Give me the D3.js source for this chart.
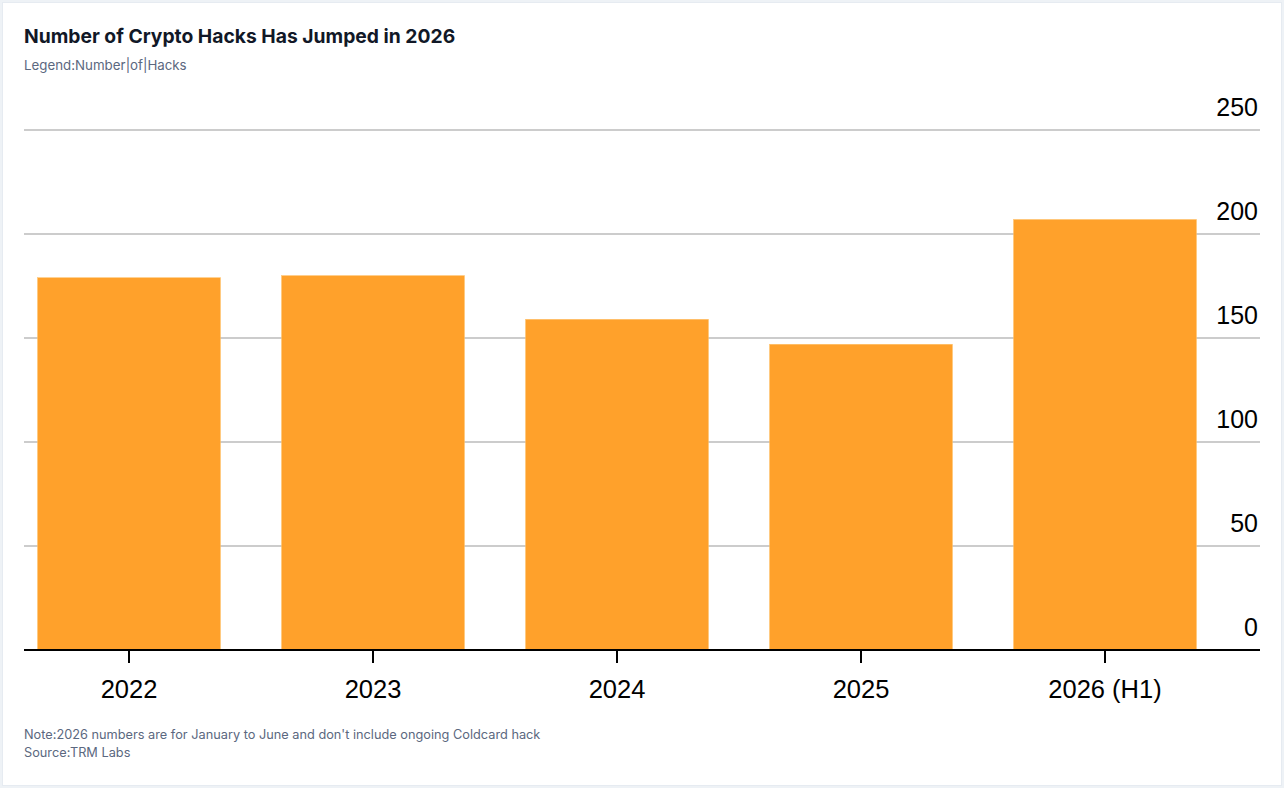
<!DOCTYPE html>
<html>
<head>
<meta charset="utf-8">
<script src="https://cdn.jsdelivr.net/npm/d3@7"></script>
<style>
  html, body { margin: 0; padding: 0; background: #eef2f6; }
  svg { display: block; }
</style>
</head>
<body>
<script>
// data
var years = ["2022", "2023", "2024", "2025", "2026 (H1)"];
var hacks = [179, 180, 159, 147, 207];
var yTicks = [0, 50, 100, 150, 200, 250];

document.addEventListener("DOMContentLoaded", function () {
    var width = 1284, height = 788;

    var svg = d3.select("body").append("svg")
      .attr("width", width)
      .attr("height", height)
      .attr("viewBox", "0 0 " + width + " " + height);

    // white card
    svg.append("rect")
      .attr("x", 2.5)
      .attr("y", 2.5)
      .attr("width", 1279)
      .attr("height", 783)
      .attr("fill", "white")
      .attr("stroke", "#e6ebf1");

    svg.append("text")
      .attr("x", 24)
      .attr("y", 43)
      .attr("font-family", "Inter, sans-serif")
      .attr("font-weight", 700)
      .attr("font-size", 19.3)
      .attr("fill", "#111827")
      .text("Number of Crypto Hacks Has Jumped in 2026");

    svg.append("text")
      .attr("x", 24)
      .attr("y", 70)
      .attr("font-family", "Inter, sans-serif")
      .attr("font-size", 13.3)
      .attr("fill", "#5b6880")
      .text("Legend:Number|of|Hacks");

    var x = d3.scaleBand()
      .domain(years)
      .range([7, 1227])
      .paddingInner(0.25)
      .paddingOuter(0.125);

    var y = d3.scaleLinear()
      .domain([0, 250])
      .range([650, 130]);

    // gridlines
    svg.append("g")
      .selectAll("line")
      .data(yTicks)
      .join("line")
      .attr("x1", 24)
      .attr("x2", 1260)
      .attr("y1", d => y(d))
      .attr("y2", d => y(d))
      .attr("stroke", "#cccccc")
      .attr("stroke-width", 2);

    // y labels, right side above gridlines
    svg.append("g")
      .selectAll("text")
      .data(yTicks)
      .join("text")
      .attr("x", 1258)
      .attr("y", d => y(d) - 14)
      .attr("text-anchor", "end")
      .attr("font-family", "'Liberation Sans', Arial, sans-serif")
      .attr("font-size", 25)
      .attr("fill", "#000")
      .text(d => d);

    // bars
    svg.append("g")
      .selectAll("rect")
      .data(hacks)
      .join("rect")
      .attr("x", (d, i) => x(years[i]))
      .attr("y", d => y(d))
      .attr("width", x.bandwidth())
      .attr("height", d => y(0) - y(d))
      .attr("fill", "#ffa12b")
      .attr("stroke", "#ffc46f")
      .attr("stroke-width", 0.5);

    // x axis
    var xAxis = svg.append("g")
      .attr("transform", "translate(0,650)")
      .call(d3.axisBottom(x).tickSize(13).tickSizeOuter(0));
    xAxis.select(".domain").remove();
    xAxis.selectAll(".tick line").attr("stroke", "#000").attr("stroke-width", 2);
    xAxis.selectAll(".tick text")
      .attr("y", 30)
      .attr("dy", "0.71em")
      .attr("font-family", "'Liberation Sans', Arial, sans-serif")
      .attr("font-size", 25.5)
      .attr("fill", "#000");

    svg.append("line")
      .attr("x1", 24)
      .attr("x2", 1260)
      .attr("y1", 650)
      .attr("y2", 650)
      .attr("stroke", "#000")
      .attr("stroke-width", 2);

    svg.append("text")
      .attr("x", 24)
      .attr("y", 739)
      .attr("font-family", "Inter, sans-serif")
      .attr("font-size", 12.75)
      .attr("fill", "#5b6880")
      .text("Note:2026 numbers are for January to June and don't include ongoing Coldcard hack");

    svg.append("text")
      .attr("x", 24)
      .attr("y", 757)
      .attr("font-family", "Inter, sans-serif")
      .attr("font-size", 12.75)
      .attr("fill", "#5b6880")
      .text("Source:TRM Labs");
});
</script>
</body>
</html>
